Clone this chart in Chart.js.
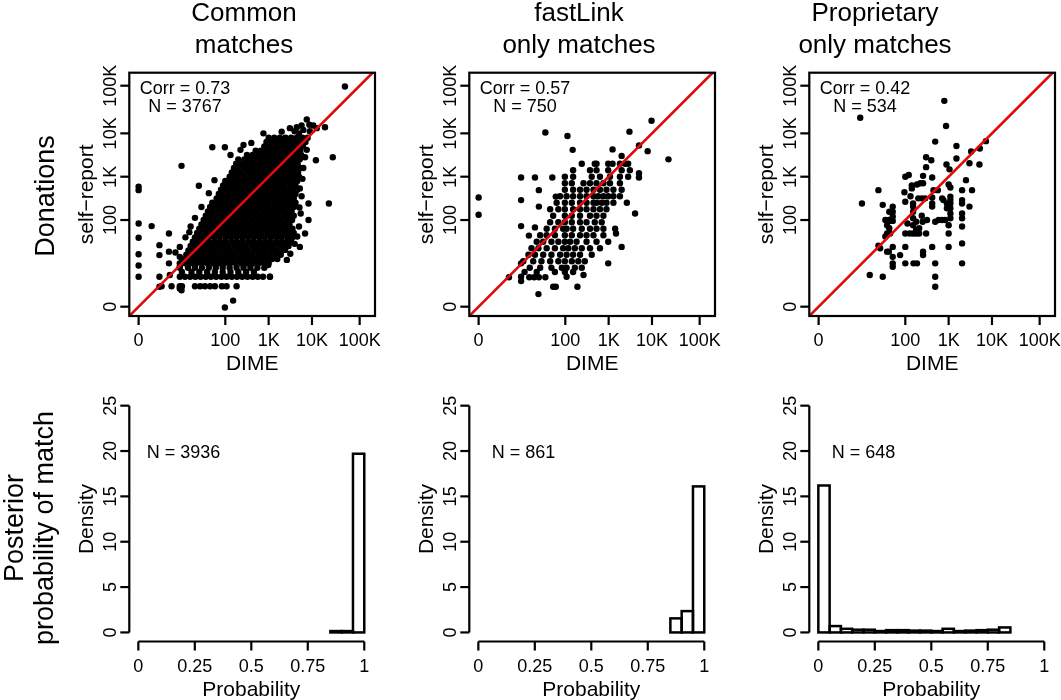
<!DOCTYPE html>
<html>
<head>
<meta charset="utf-8">
<title>Donations and posterior probability of match</title>
<script src="https://cdn.jsdelivr.net/npm/chart.js@4.4.1/dist/chart.umd.min.js"></script>
<style>
  body { margin: 0; background: #fff; }
  #wrap { position: relative; width: 1061px; height: 700px; }
  #wrap canvas { position: absolute; left: 0; top: 0; }
</style>
</head>
<body>
<div id="wrap">
  <canvas id="p1" width="1061" height="700"></canvas>
  <canvas id="p2" width="1061" height="700"></canvas>
  <canvas id="p3" width="1061" height="700"></canvas>
  <canvas id="p4" width="1061" height="700"></canvas>
  <canvas id="p5" width="1061" height="700"></canvas>
  <canvas id="p6" width="1061" height="700"></canvas>
</div>
<script>
// ---- data (donations are plotted as log10(1 + dollars)) ----
const donationTicks = [0, 2, 3, 4, 5.1];
const donationTickLabels = ['0', '100', '1K', '10K', '100K'];
const densityTicks = [0, 5, 10, 15, 20, 25];
const probTicks = [0, 0.25, 0.5, 0.75, 1];
const probTickLabels = ['0', '0.25', '0.5', '0.75', '1'];

const columnTitles = [['Common', 'matches'], ['fastLink', 'only matches'], ['Proprietary', 'only matches']];
const corrValues = ['0.73', '0.57', '0.42'];
const scatterN = ['3767', '750', '534'];
const histN = ['3936', '861', '648'];

// common matches: the dense cloud, row by row [selfReport, [DIME values]]
const commonRows = [
  [3.9, [3.00, 3.13, 3.26, 3.39, 3.52, 3.65, 3.78, 3.90]],
  [3.8, [2.95, 3.07, 3.20, 3.33, 3.46, 3.59, 3.72, 3.85]],
  [3.7, [2.90, 3.01, 3.14, 3.27, 3.40, 3.53, 3.66, 3.79]],
  [3.6, [2.70, 2.82, 2.95, 3.08, 3.21, 3.34, 3.47, 3.60, 3.73]],
  [3.5, [2.50, 2.63, 2.76, 2.89, 3.02, 3.15, 3.28, 3.41, 3.54, 3.67, 3.75]],
  [3.4, [2.30, 2.44, 2.57, 2.70, 2.83, 2.96, 3.09, 3.22, 3.35, 3.48, 3.61, 3.72]],
  [3.3, [2.25, 2.37, 2.50, 2.63, 2.76, 2.89, 3.02, 3.15, 3.28, 3.41, 3.54, 3.67]],
  [3.2, [2.20, 2.31, 2.44, 2.57, 2.70, 2.83, 2.96, 3.09, 3.22, 3.35, 3.48, 3.61, 3.72]],
  [3.1, [2.15, 2.25, 2.38, 2.51, 2.64, 2.77, 2.90, 3.03, 3.16, 3.29, 3.42, 3.55, 3.68]],
  [3.0, [2.10, 2.19, 2.32, 2.45, 2.58, 2.71, 2.84, 2.97, 3.10, 3.23, 3.36, 3.49, 3.62, 3.70]],
  [2.9, [2.00, 2.13, 2.26, 2.39, 2.52, 2.65, 2.78, 2.91, 3.04, 3.17, 3.30, 3.43, 3.56, 3.66]],
  [2.8, [1.95, 2.07, 2.20, 2.33, 2.46, 2.59, 2.72, 2.85, 2.98, 3.11, 3.24, 3.37, 3.50, 3.62]],
  [2.7, [1.90, 2.01, 2.14, 2.27, 2.40, 2.53, 2.66, 2.79, 2.92, 3.05, 3.18, 3.31, 3.44, 3.57, 3.66]],
  [2.6, [1.85, 1.95, 2.08, 2.21, 2.34, 2.47, 2.60, 2.73, 2.86, 2.99, 3.12, 3.25, 3.38, 3.51, 3.62]],
  [2.5, [1.80, 1.89, 2.02, 2.15, 2.28, 2.41, 2.54, 2.67, 2.80, 2.93, 3.06, 3.19, 3.32, 3.45, 3.58]],
  [2.4, [1.70, 1.83, 1.96, 2.09, 2.22, 2.35, 2.48, 2.61, 2.74, 2.87, 3.00, 3.13, 3.26, 3.39, 3.52, 3.62]],
  [2.3, [1.65, 1.77, 1.90, 2.03, 2.16, 2.29, 2.42, 2.55, 2.68, 2.81, 2.94, 3.07, 3.20, 3.33, 3.46, 3.58]],
  [2.2, [1.60, 1.71, 1.84, 1.97, 2.10, 2.23, 2.36, 2.49, 2.62, 2.75, 2.88, 3.01, 3.14, 3.27, 3.40, 3.53]],
  [2.1, [1.55, 1.65, 1.78, 1.91, 2.04, 2.17, 2.30, 2.43, 2.56, 2.69, 2.82, 2.95, 3.08, 3.21, 3.34, 3.47, 3.58]],
  [2.0, [1.50, 1.59, 1.72, 1.85, 1.98, 2.11, 2.24, 2.37, 2.50, 2.63, 2.76, 2.89, 3.02, 3.15, 3.28, 3.41, 3.54]],
  [1.9, [1.45, 1.53, 1.66, 1.79, 1.92, 2.05, 2.18, 2.31, 2.44, 2.57, 2.70, 2.83, 2.96, 3.09, 3.22, 3.35, 3.48]],
  [1.8, [1.40, 1.47, 1.60, 1.73, 1.86, 1.99, 2.12, 2.25, 2.38, 2.51, 2.64, 2.77, 2.90, 3.03, 3.16, 3.29, 3.42, 3.55]],
  [1.7, [1.35, 1.41, 1.54, 1.67, 1.80, 1.93, 2.06, 2.19, 2.32, 2.45, 2.58, 2.71, 2.84, 2.97, 3.10, 3.23, 3.36, 3.49, 3.58]],
  [1.6, [1.30, 1.37, 1.48, 1.61, 1.74, 1.87, 2.00, 2.13, 2.26, 2.39, 2.52, 2.65, 2.78, 2.91, 3.04, 3.17, 3.30, 3.43, 3.55]],
  [1.5, [1.25, 1.36, 1.49, 1.62, 1.75, 1.88, 2.01, 2.14, 2.27, 2.40, 2.53, 2.66, 2.79, 2.92, 3.05, 3.18, 3.31, 3.44, 3.52]],
  [1.4, [1.20, 1.30, 1.43, 1.56, 1.69, 1.82, 1.95, 2.08, 2.21, 2.34, 2.47, 2.60, 2.73, 2.86, 2.99, 3.12, 3.25, 3.38, 3.46]],
  [1.3, [1.15, 1.24, 1.37, 1.50, 1.63, 1.76, 1.89, 2.02, 2.15, 2.28, 2.41, 2.54, 2.67, 2.80, 2.93, 3.06, 3.19, 3.32]],
  [1.2, [1.10, 1.20, 1.33, 1.46, 1.59, 1.72, 1.85, 1.98, 2.11, 2.24, 2.37, 2.50, 2.63, 2.76, 2.89, 3.02, 3.15, 3.28]],
  [1.1, [1.00, 1.13, 1.26, 1.39, 1.52, 1.65, 1.78, 1.91, 2.04, 2.17, 2.30, 2.43, 2.56, 2.69, 2.82, 2.95, 3.08, 3.20]],
  [1.0, [0.95, 1.07, 1.20, 1.33, 1.46, 1.59, 1.72, 1.85, 1.98, 2.11, 2.24, 2.37, 2.50, 2.63, 2.76, 2.89, 3.00]],
  [0.9, [0.95, 1.14, 1.30, 1.46, 1.62, 1.78, 1.94, 2.10, 2.26, 2.42, 2.58, 2.74, 2.90]],
  [0.8, [1.00, 1.22, 1.40, 1.58, 1.76, 1.94, 2.12, 2.30, 2.48, 2.66]],
  [0.69, [0.95, 1.07, 1.19, 1.31, 1.43, 1.55, 1.67, 1.79, 1.91, 2.03, 2.15, 2.27, 2.39, 2.51, 2.63, 2.75, 2.87, 3.03]],
  [0.47, [0.53, 0.76, 0.95, 1.00, 1.30, 1.42, 1.53, 1.65, 1.76, 1.92, 2.03, 2.26]]
];
// common matches: scattered points outside the cloud [DIME, selfReport]
const commonOther = [
  [3.49, 4.12], [3.65, 4.14], [3.76, 4.18], [3.88, 4.32], [3.94, 4.20], [4.03, 4.18], [4.11, 4.12],
  [3.60, 4.05], [3.80, 4.08], [3.70, 4.00], [3.95, 4.05],
  [4.76, 5.08], [4.30, 4.14], [3.30, 4.04], [2.88, 4.00], [2.42, 3.73], [1.99, 3.68], [1.70, 3.68],
  [0.99, 3.25], [3.88, 3.62], [4.09, 3.38], [4.48, 3.45], [4.39, 2.38], [3.92, 2.38], [3.71, 2.29],
  [3.92, 2.00], [1.39, 2.79], [0.30, 1.86], [3.72, 2.73],
  [0, 2.77], [0, 2.69], [0, 1.92], [0, 1.59], [0, 1.21], [0, 0.95], [0, 0.69],
  [0.48, 1.42], [0.48, 1.19], [0.48, 0.69], [0.48, 0.46], [0.70, 1.69], [0.70, 1.27], [0.70, 1.00],
  [0.72, 0.73], [0.95, 1.38], [0.95, 1.15], [0.95, 0.92], [0.95, 0.42], [0.99, 0.38], [1.17, 1.72],
  [1.99, -0.02], [2.18, 0.14], [3.84, 1.69], [3.72, 1.38], [3.38, 1.31], [2.99, 0.96], [3.03, 0.69],
  [3.80, 3.20], [3.84, 3.45], [3.78, 2.95], [3.76, 2.55], [3.74, 2.15], [3.70, 1.85], [3.66, 1.62],
  [3.60, 1.45], [3.50, 1.22], [3.42, 1.08], [2.12, 3.50], [2.35, 3.62], [2.60, 3.78], [1.75, 2.92],
  [1.62, 2.62], [1.45, 2.30], [1.30, 2.05], [1.20, 1.85], [1.08, 1.60], [0.85, 1.25]
];

// fastLink-only matches [DIME, selfReport]
const fastlinkPoints = [
  [2.38, 3.3], [2.68, 3.3], [2.72, 3.3], [2.99, 3.3], [3.09, 3.3], [3.26, 3.3], [3.38, 3.3], [3.45, 3.3],
  [2.18, 3.15], [2.57, 3.15], [2.72, 3.15], [2.99, 3.15], [3.30, 3.15], [3.49, 3.15],
  [1.99, 3.0], [2.18, 3.0], [2.61, 3.0], [2.80, 3.0], [3.03, 3.0], [3.26, 3.0], [3.45, 3.0],
  [1.99, 2.85], [2.15, 2.85], [2.42, 2.85], [2.57, 2.85], [2.72, 2.85], [2.88, 2.85], [3.03, 2.85], [3.26, 2.85],
  [1.99, 2.7], [2.18, 2.7], [2.34, 2.7], [2.49, 2.7], [2.65, 2.7], [2.80, 2.7], [2.95, 2.7], [3.11, 2.7], [3.30, 2.7],
  [1.88, 2.55], [2.03, 2.55], [2.18, 2.55], [2.34, 2.55], [2.49, 2.55], [2.65, 2.55], [2.76, 2.55], [2.88, 2.55],
  [2.99, 2.55], [3.11, 2.55], [3.26, 2.55],
  [1.80, 2.4], [1.99, 2.4], [2.15, 2.4], [2.34, 2.4], [2.49, 2.4], [2.65, 2.4], [2.72, 2.4], [2.84, 2.4],
  [2.95, 2.4], [3.11, 2.4], [3.42, 2.4],
  [1.65, 2.25], [1.84, 2.25], [1.99, 2.25], [2.18, 2.25], [2.34, 2.25], [2.49, 2.25], [2.65, 2.25], [2.80, 2.25], [2.95, 2.25],
  [1.72, 2.1], [1.99, 2.1], [2.15, 2.1], [2.34, 2.1], [2.57, 2.1], [2.72, 2.1], [2.88, 2.1],
  [1.65, 1.95], [1.84, 1.95], [1.99, 1.95], [2.15, 1.95], [2.34, 1.95], [2.49, 1.95], [2.68, 1.95], [2.84, 1.95],
  [1.57, 1.8], [1.76, 1.8], [1.95, 1.8], [2.03, 1.8], [2.18, 1.8], [2.38, 1.8], [2.57, 1.8], [2.72, 1.8], [2.88, 1.8], [3.15, 1.8],
  [1.42, 1.65], [1.57, 1.65], [1.76, 1.65], [1.99, 1.65], [2.15, 1.65], [2.34, 1.65], [2.49, 1.65], [2.65, 1.65], [2.88, 1.65],
  [1.34, 1.5], [1.49, 1.5], [1.68, 1.5], [1.84, 1.5], [1.99, 1.5], [2.11, 1.5], [2.26, 1.5], [2.49, 1.5], [2.72, 1.5], [2.99, 1.5],
  [1.22, 1.35], [1.38, 1.35], [1.57, 1.35], [1.76, 1.35], [1.95, 1.35], [2.07, 1.35], [2.22, 1.35], [2.38, 1.35], [2.57, 1.35], [2.80, 1.35],
  [1.15, 1.2], [1.30, 1.2], [1.49, 1.2], [1.68, 1.2], [1.88, 1.2], [2.03, 1.2], [2.18, 1.2], [2.34, 1.2], [2.61, 1.2],
  [1.03, 1.05], [1.26, 1.05], [1.45, 1.05], [1.65, 1.05], [1.84, 1.05], [1.99, 1.05], [2.15, 1.05], [2.30, 1.05], [2.45, 1.05],
  [1.18, 0.9], [1.42, 0.9], [1.68, 0.9], [1.92, 0.9], [2.03, 0.9], [2.22, 0.9], [2.38, 0.9],
  [1.34, 0.8], [1.76, 0.8], [1.99, 0.8], [2.18, 0.8],
  [3.99, 4.29], [3.48, 4.04], [1.54, 4.02], [2.05, 3.94], [2.17, 3.62], [3.09, 3.63], [3.70, 3.72], [3.90, 3.59],
  [4.38, 3.40], [3.30, 3.48], [0.98, 2.98], [1.30, 2.98], [1.70, 2.98], [0, 2.52], [0, 2.12], [0.98, 2.46],
  [1.39, 2.69], [1.39, 2.31], [1.78, 2.54], [0.98, 1.86], [1.30, 1.83], [1.16, 1.64], [3.61, 2.15], [3.70, 3.08],
  [3.70, 2.98], [3.17, 1.69], [3.30, 1.38], [2.99, 1.00], [0.70, 0.68], [0.98, 1.00], [0.98, 0.59], [1.38, 0.29],
  [1.17, 0.68], [1.28, 0.68], [1.39, 0.68], [1.54, 0.68], [1.72, 0.46], [1.78, 0.46], [2.28, 0.46], [2.03, 0.69],
  [2.42, 0.73], [0.98, 0.69], [1.06, 0.80]
];

// proprietary-only matches [DIME, selfReport]
const proprietaryPoints = [
  [0.96, 4.36], [2.90, 4.75], [2.94, 4.17], [2.69, 3.81], [3.18, 3.71], [3.52, 3.58], [3.72, 3.65], [3.86, 3.82],
  [3.48, 3.31], [3.71, 3.28], [3.18, 3.42], [2.95, 3.28], [3.02, 3.17], [2.48, 3.45], [2.60, 3.38], [2.48, 3.22],
  [2.62, 2.98], [2.41, 3.02], [2.00, 3.00], [2.08, 3.04], [1.38, 2.69], [1.00, 2.38], [1.48, 2.35], [1.71, 2.31],
  [1.71, 2.08], [1.63, 1.98], [1.71, 1.98], [1.98, 2.64], [2.00, 2.42], [2.15, 2.80], [2.15, 2.73], [2.27, 2.82],
  [2.35, 2.85], [2.41, 2.85], [2.18, 2.38], [2.18, 2.31], [2.18, 2.19], [2.30, 2.50], [2.38, 2.50], [2.46, 2.50],
  [2.65, 2.69], [2.62, 2.52], [2.75, 2.69], [2.85, 2.50], [2.88, 2.46], [2.62, 2.38], [2.62, 2.31], [3.00, 2.82],
  [3.04, 2.75], [3.04, 2.54], [3.04, 2.46], [3.04, 2.38], [3.04, 2.27], [3.04, 2.15], [3.04, 2.04], [2.96, 2.38],
  [2.96, 2.27], [3.31, 2.69], [3.40, 2.92], [3.31, 2.46], [3.31, 2.38], [3.31, 2.15], [3.31, 2.04], [3.31, 1.85],
  [3.31, 1.46], [3.31, 1.00], [3.54, 2.69], [3.48, 2.31], [2.69, 1.96], [2.77, 2.00], [2.85, 2.00], [2.92, 2.00],
  [3.00, 1.88], [3.00, 1.69], [3.00, 1.38], [1.63, 2.19], [1.71, 2.19], [1.54, 2.00], [1.62, 2.00], [1.58, 1.88],
  [1.63, 1.81], [1.58, 1.69], [1.65, 1.69], [1.54, 1.62], [1.38, 1.41], [1.42, 1.35], [1.58, 1.27], [1.62, 1.27],
  [1.71, 1.38], [1.71, 1.15], [1.71, 1.00], [1.71, 0.92], [1.88, 1.19], [2.00, 1.69], [2.00, 1.38], [2.00, 1.00],
  [2.18, 1.69], [2.18, 1.88], [2.18, 2.04], [2.25, 1.77], [2.25, 1.69], [2.32, 1.81], [2.32, 1.69], [2.41, 1.27],
  [2.41, 1.19], [2.48, 1.69], [2.62, 1.38], [2.69, 1.00], [2.69, 0.69], [2.69, 0.46], [2.19, 1.00], [1.18, 0.73],
  [1.48, 0.69], [2.27, 1.00], [2.05, 1.92], [2.10, 1.69], [2.38, 2.10], [2.50, 2.00], [2.40, 1.96], [2.25, 1.96],
  [2.12, 2.55]
];

// histograms of posterior probability (bin left edge, density); bins are 0.05 wide
const binWidth = 0.05;
const commonBins = [0.85, 0.90, 0.95];
const commonDensity = [0.15, 0.15, 19.7];
const fastlinkBins = [0.85, 0.90, 0.95];
const fastlinkDensity = [1.55, 2.35, 16.1];
const proprietaryBins = [0, 0.05, 0.10, 0.15, 0.20, 0.25, 0.30, 0.35, 0.40, 0.45, 0.50, 0.55, 0.60, 0.65, 0.70, 0.75, 0.80];
const proprietaryDensity = [16.2, 0.7, 0.4, 0.3, 0.3, 0.15, 0.25, 0.25, 0.2, 0.2, 0.15, 0.4, 0.15, 0.2, 0.25, 0.3, 0.55];

// ---- layout ----
const W = 1061, H = 700;
const FONT = '"Liberation Sans", Arial, Helvetica, sans-serif';
const RED = '#DF0A0A';
const colLeft = [129.3, 469.3, 809.3];
const titleX = [244, 579, 875];

const rStyle = {
  id: 'rStyle',
  afterDatasetsDraw(chart, args, o) {
    if (o.kind !== 'hist') return;
    // outline every histogram bar like R's rect()
    const ctx = chart.ctx;
    ctx.save();
    ctx.strokeStyle = '#000';
    ctx.lineWidth = 2.5;
    chart.getDatasetMeta(0).data.forEach(bar => {
      const p = bar.getProps(['x', 'y', 'base', 'width'], true);
      ctx.strokeRect(p.x - p.width / 2, p.y, p.width, p.base - p.y);
    });
    ctx.restore();
  },
  afterDraw(chart, args, o) {
    const {ctx, chartArea: a, scales: {x, y}} = chart;
    ctx.save();
    ctx.strokeStyle = '#000';
    ctx.fillStyle = '#000';
    ctx.lineWidth = 2.2;
    ctx.lineCap = 'butt';

    if (o.kind === 'scatter') {
      ctx.strokeRect(a.left, a.top, a.right - a.left, a.bottom - a.top);
    } else {
      ctx.beginPath();
      ctx.moveTo(a.left, y.getPixelForValue(o.yTicks[0]));
      ctx.lineTo(a.left, y.getPixelForValue(o.yTicks[o.yTicks.length - 1]));
      ctx.moveTo(x.getPixelForValue(o.xTicks[0]), a.bottom);
      ctx.lineTo(x.getPixelForValue(o.xTicks[o.xTicks.length - 1]), a.bottom);
      ctx.stroke();
    }

    // tick marks + labels
    ctx.font = '18px ' + FONT;
    ctx.textAlign = 'center';
    ctx.textBaseline = 'alphabetic';
    o.xTicks.forEach((v, i) => {
      const px = x.getPixelForValue(v);
      ctx.beginPath();
      ctx.moveTo(px, a.bottom);
      ctx.lineTo(px, a.bottom + 9);
      ctx.stroke();
      ctx.fillText(o.xLabels[i], px, a.bottom + 30);
    });
    o.yTicks.forEach((v, i) => {
      const py = y.getPixelForValue(v);
      ctx.beginPath();
      ctx.moveTo(a.left, py);
      ctx.lineTo(a.left - 9, py);
      ctx.stroke();
      ctx.save();
      ctx.translate(a.left - 13.5, py);
      ctx.rotate(-Math.PI / 2);
      ctx.fillText(o.yLabels[i], 0, 0);
      ctx.restore();
    });

    // axis titles
    ctx.font = '21px ' + FONT;
    ctx.fillText(o.xTitle, (a.left + a.right) / 2, a.bottom + 54);
    ctx.save();
    ctx.translate(a.left - 36.5, (a.top + a.bottom) / 2);
    ctx.rotate(-Math.PI / 2);
    ctx.fillText(o.yTitle, 0, 0);
    ctx.restore();

    // annotations
    ctx.font = '18px ' + FONT;
    if (o.kind === 'scatter') {
      const cx = a.left + 55.7;
      ctx.fillText('Corr = ' + o.corr, cx, a.top + 21.6);
      ctx.fillText('N = ' + o.n, cx, a.top + 39.6);
    } else {
      ctx.fillText('N = ' + o.n, x.getPixelForValue(0.2), y.getPixelForValue(20) + 6.5);
    }

    // column titles
    ctx.font = '26px ' + FONT;
    if (o.title) {
      ctx.fillText(o.title[0], o.titleX, 20.7);
      ctx.fillText(o.title[1], o.titleX, 53.3);
    }
    // row labels
    ctx.font = '27px ' + FONT;
    if (o.rowLabel) {
      ctx.save();
      ctx.translate(0, o.rowLabel.cy);
      ctx.rotate(-Math.PI / 2);
      o.rowLabel.lines.forEach((t, i) => ctx.fillText(t, 0, o.rowLabel.baselines[i]));
      ctx.restore();
    }
    ctx.restore();
  }
};

function toPoints(pairs) {
  return pairs.map(([x, y]) => ({x, y}));
}

function scatterPanel(id, col, pts, extra) {
  const left = colLeft[col];
  return new Chart(document.getElementById(id), {
    type: 'scatter',
    data: {
      datasets: [
        {
          data: pts,
          order: 2,
          pointRadius: 3.2,
          pointHoverRadius: 3.2,
          pointBackgroundColor: '#000',
          pointBorderWidth: 0
        },
        {
          // identity line y = x
          data: [{x: -0.5, y: -0.5}, {x: 6, y: 6}],
          order: 1,
          showLine: true,
          borderColor: RED,
          borderWidth: 2.6,
          pointRadius: 0,
          clip: 0
        }
      ]
    },
    options: {
      responsive: false,
      animation: false,
      devicePixelRatio: 1,
      events: [],
      layout: {padding: {left: left, right: W - (left + 245.7), top: 72.7, bottom: H - 316}},
      scales: {
        x: {type: 'linear', min: -0.215, max: 5.454, display: false},
        y: {type: 'linear', min: -0.215, max: 5.40, display: false}
      },
      plugins: {
        legend: {display: false},
        tooltip: {enabled: false},
        rStyle: Object.assign({
          kind: 'scatter',
          xTicks: donationTicks, xLabels: donationTickLabels,
          yTicks: donationTicks, yLabels: donationTickLabels,
          xTitle: 'DIME', yTitle: 'self\u2212report',
          corr: corrValues[col], n: scatterN[col],
          title: columnTitles[col], titleX: titleX[col]
        }, extra || {})
      }
    },
    plugins: [rStyle]
  });
}

function histPanel(id, col, bins, density, extra) {
  const left = colLeft[col];
  return new Chart(document.getElementById(id), {
    type: 'bar',
    data: {
      datasets: [{
        data: bins.map((b, i) => ({x: b + binWidth / 2, y: density[i]})),
        backgroundColor: '#fff',
        borderWidth: 0,
        barPercentage: 1,
        categoryPercentage: 1
      }]
    },
    options: {
      responsive: false,
      animation: false,
      devicePixelRatio: 1,
      events: [],
      layout: {padding: {left: left, right: W - (left + 244), top: 396.6, bottom: H - 641.5}},
      scales: {
        x: {type: 'linear', offset: false, min: -0.04, max: 1.04, display: false},
        y: {type: 'linear', min: -1, max: 26, display: false}
      },
      plugins: {
        legend: {display: false},
        tooltip: {enabled: false},
        rStyle: Object.assign({
          kind: 'hist',
          xTicks: probTicks, xLabels: probTickLabels,
          yTicks: densityTicks, yLabels: densityTicks.map(String),
          xTitle: 'Probability', yTitle: 'Density',
          n: histN[col]
        }, extra || {})
      }
    },
    plugins: [rStyle]
  });
}

const commonPoints = commonRows
  .flatMap(([yv, xs]) => xs.map(xv => ({x: xv, y: yv})))
  .concat(toPoints(commonOther));

scatterPanel('p1', 0, commonPoints, {rowLabel: {lines: ['Donations'], baselines: [54], cy: 196}});
scatterPanel('p2', 1, toPoints(fastlinkPoints));
scatterPanel('p3', 2, toPoints(proprietaryPoints));
histPanel('p4', 0, commonBins, commonDensity,
  {rowLabel: {lines: ['Posterior', 'probability of match'], baselines: [23, 53], cy: 528}});
histPanel('p5', 1, fastlinkBins, fastlinkDensity);
histPanel('p6', 2, proprietaryBins, proprietaryDensity);
</script>
</body>
</html>
